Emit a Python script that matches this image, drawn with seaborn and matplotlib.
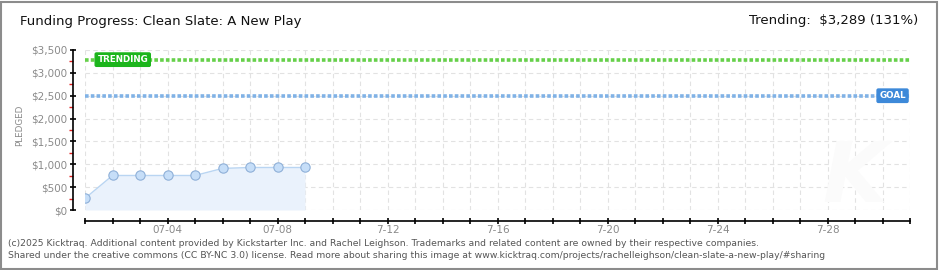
import numpy as np
import pandas as pd
import matplotlib
matplotlib.use("Agg")
import matplotlib.pyplot as plt
from matplotlib.patches import Rectangle
import seaborn as sns

# ---- data ----
dates = ["2025-07-01", "2025-07-02", "2025-07-03", "2025-07-04", "2025-07-05",
         "2025-07-06", "2025-07-07", "2025-07-08", "2025-07-09"]
pledged = [255, 755, 755, 755, 755, 910, 930, 930, 930]
goal = 2500
trending = 3289
y_ticks = [0, 500, 1000, 1500, 2000, 2500, 3000, 3500]
y_tick_labels = ["$0", "$500", "$1,000", "$1,500", "$2,000", "$2,500", "$3,000", "$3,500"]
x_label_days = [4, 8, 12, 16, 20, 24, 28]
x_tick_labels = ["07-04", "07-08", "7-12", "7-16", "7-20", "7-24", "7-28"]
title = "Funding Progress: Clean Slate: A New Play"
trend_text = "Trending:  \\$3,289 (131%)"
footer1 = ("(c)2025 Kicktraq. Additional content provided by Kickstarter Inc. and Rachel Leighson. "
           "Trademarks and related content are owned by their respective companies.")
footer2 = ("Shared under the creative commons (CC BY-NC 3.0) license. Read more about sharing this image at "
           "www.kicktraq.com/projects/rachelleighson/clean-slate-a-new-play/#sharing")

df = pd.DataFrame({"date": pd.to_datetime(dates), "pledged": pledged})
df["day"] = df["date"].dt.day

sns.set_style("white")
plt.rcParams["font.family"] = ["DejaVu Sans"]

W, H = 940, 270
fig = plt.figure(figsize=(W / 100, H / 100), dpi=100)
fig.patch.set_facecolor("white")
ax = fig.add_axes([85 / W, 60 / H, 825 / W, 160 / H])
ax.set_facecolor("white")

# grid
for yv in y_ticks:
    ax.axhline(yv, color="#e2e2e2", lw=0.8, dashes=(4, 3), zorder=0)
for d in range(1, 32):
    ax.axvline(d, color="#e2e2e2", lw=0.8, dashes=(4, 3), zorder=0)

# watermark
ax.text(29.0, 700, "K", fontsize=60, color="#fbfbfb", style="italic",
        ha="center", va="center", fontweight="bold", zorder=0)

# area + line + markers
ax.fill_between(df["day"], 0, df["pledged"], color="#eaf2fc", zorder=1, lw=0)
sns.lineplot(data=df, x="day", y="pledged", ax=ax, color="#b9d5f2", lw=1.0, zorder=2)
sns.scatterplot(data=df, x="day", y="pledged", ax=ax, s=45, color="#c6def8",
                edgecolor="#8fb0d8", linewidth=0.8, zorder=3)

# goal / trending lines
ax.axhline(trending, color="#66d04a", lw=2.6, dashes=(1.0, 0.6), zorder=2)
ax.axhline(goal, color="#80b2e6", lw=2.6, dashes=(1.0, 0.6), zorder=2)

# labels on lines
ax.text(1.45, trending, "TRENDING", color="white", fontsize=6.3, fontweight="bold",
        ha="left", va="center", zorder=5,
        bbox=dict(boxstyle="round,pad=0.25,rounding_size=0.15", fc="#1cb51c", ec="#1cb51c"))
ax.text(30.85, goal, "GOAL", color="white", fontsize=6.3, fontweight="bold",
        ha="right", va="center", zorder=5,
        bbox=dict(boxstyle="round,pad=0.25,rounding_size=0.15", fc="#3d89d9", ec="#3d89d9"))

ax.set_xlim(1, 31)
ax.set_ylim(0, 3500)

# spines
for s in ["top", "right"]:
    ax.spines[s].set_visible(False)
ax.spines["left"].set_position(("outward", 9))
ax.spines["bottom"].set_position(("outward", 8))
ax.spines["left"].set_color("black")
ax.spines["bottom"].set_color("black")
ax.spines["left"].set_linewidth(1.2)
ax.spines["bottom"].set_linewidth(1.2)

ax.set_yticks(y_ticks)
ax.set_yticklabels(y_tick_labels)
ax.set_yticks([250, 750, 1250, 1750, 2250, 2750, 3250], minor=True)
ax.tick_params(axis="y", which="both", left=True)
ax.tick_params(axis="y", which="major", direction="inout", length=5, width=1.2,
               color="black", labelsize=7.5, labelcolor="#8a8a8a", pad=1.5)
ax.tick_params(axis="y", which="minor", direction="out", length=3, width=1.0, color="#e02020")

ax.set_xticks(range(1, 32))
ax.set_xticklabels([x_tick_labels[x_label_days.index(d)] if d in x_label_days else ""
                    for d in range(1, 32)])
ax.tick_params(axis="x", bottom=True, direction="inout", length=5, width=1.2, color="black",
               labelsize=7.5, labelcolor="#8a8a8a", pad=0)

ax.set_xlabel("")
ax.set_ylabel("")
fig.text(20 / W, 1 - 125 / H, "PLEDGED", rotation=90, fontsize=6.3, color="#8a8a8a",
         ha="center", va="center")

# titles
fig.text(20 / W, 1 - 22 / H, title, fontsize=9.5, color="#111111", ha="left", va="center")
fig.text(918 / W, 1 - 21 / H, trend_text, fontsize=9.5, color="#111111", ha="right", va="center")

# footer
fig.text(8 / W, 1 - 243 / H, footer1, fontsize=6.7, color="#555555", ha="left", va="center")
fig.text(8 / W, 1 - 256 / H, footer2, fontsize=6.7, color="#555555", ha="left", va="center")

# border
fig.add_artist(Rectangle((0.6 / W, 0.6 / H), (W - 3.5) / W, (H - 2.5) / H, transform=fig.transFigure,
                         fill=False, ec="#8c8c8c", lw=1.5))

fig.savefig("out.png", dpi=100)
